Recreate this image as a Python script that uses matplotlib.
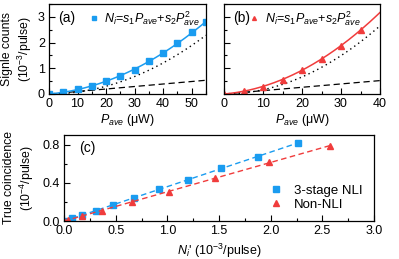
import numpy as np
import matplotlib
matplotlib.use("Agg")
import matplotlib.pyplot as plt
from matplotlib.ticker import MultipleLocator, FormatStrFormatter

plt.rcParams['font.family'] = ['Liberation Sans', 'DejaVu Sans']
plt.rcParams['mathtext.fontset'] = 'custom'
plt.rcParams['mathtext.rm'] = 'Liberation Sans'
plt.rcParams['mathtext.it'] = 'Liberation Sans:italic'
plt.rcParams['mathtext.bf'] = 'Liberation Sans:bold'
plt.rcParams['font.size'] = 9

BLUE = '#1a9cf0'
RED = '#f03c3c'

# Panel (a): 3-stage NLI single counts
pa_x = [0, 5, 10, 15, 20, 25, 30, 35, 40, 45, 50, 55]
pa_y = [0.0, 0.06, 0.18, 0.32, 0.51, 0.70, 0.94, 1.27, 1.60, 1.99, 2.40, 2.79]

# Panel (b): Non-NLI single counts
pb_x = [0, 5, 10, 15, 20, 25, 30, 35]
pb_y = [0.0, 0.12, 0.29, 0.56, 0.95, 1.35, 1.86, 2.50]

# Panel (c): true coincidence vs N_i'
nli_x = [0.0, 0.074, 0.178, 0.31, 0.478, 0.68, 0.92, 1.20, 1.52, 1.875, 2.26]
nli_y = [0.0, 0.027, 0.061, 0.109, 0.167, 0.238, 0.334, 0.432, 0.555, 0.674, 0.814]
non_x = [0.0, 0.04, 0.17, 0.37, 0.656, 1.02, 1.465, 1.98, 2.57]
non_y = [0.0, 0.014, 0.054, 0.109, 0.200, 0.300, 0.453, 0.613, 0.786]

legend_ab = r'$N_i$=$s_1P_{ave}$+$s_2P^2_{ave}$'

W, H = 399, 259
fig = plt.figure(figsize=(W / 100, H / 100), dpi=100)

def rect(l, r, t, b):
    return [l / W, 1 - b / H, (r - l) / W, (b - t) / H]

axA = fig.add_axes(rect(49, 206, 4, 94))
axB = fig.add_axes(rect(224, 380, 4, 94))
axC = fig.add_axes(rect(64, 374, 135, 221))

def style(ax):
    ax.tick_params(direction='in', which='major', length=4, width=0.8, labelsize=9, pad=3)
    ax.tick_params(direction='in', which='minor', length=2.5, width=0.8)
    for s in ax.spines.values():
        s.set_linewidth(0.9)

def single_panel(ax, x, y, color, marker, xmax, label, leg_x):
    x = np.array(x, float)
    y = np.array(y, float)
    A = np.vstack([x, x ** 2]).T
    s1, s2 = np.linalg.lstsq(A, y, rcond=None)[0]
    xx = np.linspace(0, xmax, 200)
    ax.plot(xx, s1 * xx, color='k', ls=(0, (5, 3)), lw=0.9)
    ax.plot(xx, s2 * xx ** 2, color='k', ls=(0, (1, 2.5)), lw=1.0)
    ax.plot(xx, s1 * xx + s2 * xx ** 2, color=color, lw=1.1)
    ax.plot(x, y, ls='none', marker=marker, color=color, ms=4, label=legend_ab)
    ax.set_xlim(0, xmax)
    ax.set_ylim(0, 3.5)
    ax.yaxis.set_major_locator(MultipleLocator(1))
    ax.yaxis.set_minor_locator(MultipleLocator(0.5))
    ax.xaxis.set_major_locator(MultipleLocator(10))
    ax.xaxis.set_minor_locator(MultipleLocator(5))
    ax.set_xlabel(r'$P_{ave}$ ($\mathrm{\mu}$W)', labelpad=1)
    ax.text(0.06, 0.805, label, transform=ax.transAxes, fontsize=10)
    ax.legend(loc='upper left', bbox_to_anchor=(leg_x, 0.985), frameon=False,
              handlelength=0.5, handletextpad=0.6, markerscale=0.7, fontsize=9,
              borderaxespad=0, borderpad=0.3)
    style(ax)

single_panel(axA, pa_x, pa_y, BLUE, 's', 55, '(a)', 0.24)
single_panel(axB, pb_x, pb_y, RED, '^', 40, '(b)', 0.15)
axB.tick_params(labelleft=False)
axA.set_ylabel('Signle counts\n(10$^{-3}$/pulse)', linespacing=1.2, fontsize=8.8)
axA.yaxis.set_label_coords(-0.095, 0.5)

# Panel (c)
for x, y, color, marker, lab in [(nli_x, nli_y, BLUE, 's', '3-stage NLI'),
                                  (non_x, non_y, RED, '^', 'Non-NLI')]:
    x = np.array(x); y = np.array(y)
    k, b = np.polyfit(x, y, 1)
    xx = np.linspace(0, x.max(), 100)
    axC.plot(xx, k * xx + b, color=color, ls=(0, (4, 2.5)), lw=1.0)
    axC.plot(x, y, ls='none', marker=marker, color=color, ms=4, label=lab)

axC.set_xlim(0, 3.0)
axC.set_ylim(0, 0.9)
axC.xaxis.set_major_locator(MultipleLocator(0.5))
axC.xaxis.set_minor_locator(MultipleLocator(0.25))
axC.yaxis.set_major_locator(MultipleLocator(0.4))
axC.yaxis.set_minor_locator(MultipleLocator(0.2))
axC.xaxis.set_major_formatter(FormatStrFormatter('%.1f'))
axC.yaxis.set_major_formatter(FormatStrFormatter('%.1f'))
axC.set_xlabel(r"$N_i$' (10$^{-3}$/pulse)", labelpad=3)
axC.set_ylabel('True coincidence\n(10$^{-4}$/pulse)', linespacing=1.2, fontsize=8.8)
axC.yaxis.set_label_coords(-0.09, 0.5)
axC.text(0.05, 0.8, '(c)', transform=axC.transAxes, fontsize=10)
axC.legend(loc='lower right', bbox_to_anchor=(1.0, -0.02), frameon=False,
           handlelength=0.8, handletextpad=0.9, fontsize=9.5, labelspacing=0.15)
style(axC)

fig.savefig('out.png', dpi=100)
